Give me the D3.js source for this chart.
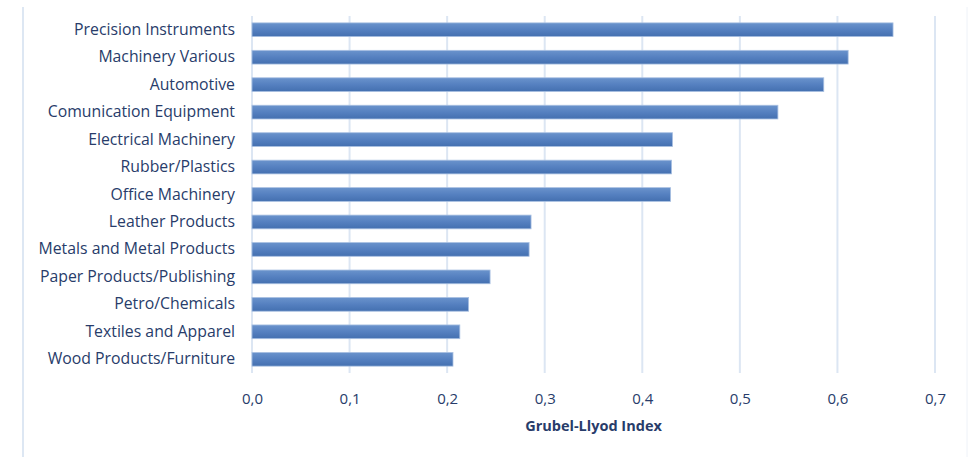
<!DOCTYPE html>
<html>
<head>
<meta charset="utf-8">
<script src="https://cdn.jsdelivr.net/npm/d3@7"></script>
<style>
  html, body { margin: 0; padding: 0; background: #fff; }
  svg { display: block; }
  text { font-family: "Open Sans", Lato, sans-serif; fill: #283c6a; }
</style>
</head>
<body>
<svg id="chart" width="968" height="457"></svg>
<script>
const categories = [
  "Precision Instruments",
  "Machinery Various",
  "Automotive",
  "Comunication Equipment",
  "Electrical Machinery",
  "Rubber/Plastics",
  "Office Machinery",
  "Leather Products",
  "Metals and Metal Products",
  "Paper Products/Publishing",
  "Petro/Chemicals",
  "Textiles and Apparel",
  "Wood Products/Furniture"
];
const values = [0.657, 0.611, 0.586, 0.539, 0.431, 0.430, 0.429, 0.286, 0.284, 0.244, 0.222, 0.213, 0.206];
const tickValues = [0, 0.1, 0.2, 0.3, 0.4, 0.5, 0.6, 0.7];
const axisTitle = "Grubel-Llyod Index";

(function () {
const svg = d3.select("#chart");
const pLeft = 252, pRight = 935, pTop = 16, pBottom = 373;
const font = "'Open Sans', Lato, sans-serif";
const textColor = "#283c6a";

const x = d3.scaleLinear().domain([0, 0.7]).range([pLeft, pRight]);
const y = d3.scaleBand().domain(categories).range([pTop, pBottom]).paddingInner(0.5).paddingOuter(0.25);

// outer frame lines
svg.append("line").attr("x1", 23).attr("x2", 23).attr("y1", 7).attr("y2", 457)
  .attr("stroke", "#dde7f3").attr("stroke-width", 2);
svg.append("line").attr("x1", 967).attr("x2", 967).attr("y1", 7).attr("y2", 457)
  .attr("stroke", "#eef2f8").attr("stroke-width", 1);

const defs = svg.append("defs");
const grad = defs.append("linearGradient").attr("id", "barGrad")
  .attr("x1", 0).attr("x2", 0).attr("y1", 0).attr("y2", 1);
grad.append("stop").attr("offset", "0%").attr("stop-color", "#6a93cc");
grad.append("stop").attr("offset", "50%").attr("stop-color", "#5580c0");
grad.append("stop").attr("offset", "100%").attr("stop-color", "#4470b0");

// gridlines
svg.append("g").selectAll("line").data(tickValues).join("line")
  .attr("x1", d => x(d)).attr("x2", d => x(d))
  .attr("y1", pTop).attr("y2", pBottom)
  .attr("stroke", "#dce6f3").attr("stroke-width", 2);

// bars
svg.append("g").selectAll("rect").data(values).join("rect")
  .attr("x", x(0))
  .attr("y", (d, i) => y(categories[i]))
  .attr("width", d => x(d) - x(0))
  .attr("height", y.bandwidth())
  .attr("fill", "url(#barGrad)")
  .attr("stroke", "#a9c0e2").attr("stroke-width", 0.8);

// category labels
const yAxis = d3.axisLeft(y).tickSize(0).tickPadding(17);
const gy = svg.append("g").attr("transform", `translate(${pLeft},0)`).call(yAxis);
gy.select(".domain").remove();
gy.selectAll("text").style("font-size", "15.8px").style("fill", textColor)
  .style("font-family", font);

// x axis tick labels
const xAxis = d3.axisBottom(x).tickValues(tickValues).tickSize(0).tickPadding(20)
  .tickFormat(d => d3.format(".1f")(d).replace(".", ","));
const gx = svg.append("g").attr("transform", `translate(0,${pBottom})`).call(xAxis);
gx.select(".domain").remove();
gx.selectAll("text").style("font-size", "15px").style("fill", textColor)
  .style("font-family", font);

// axis title
svg.append("text").attr("x", x(0.35)).attr("y", 431)
  .attr("text-anchor", "middle")
  .style("font-size", "14.5px").style("font-weight", "bold")
  .style("font-family", font).style("fill", textColor)
  .text(axisTitle);
})();
</script>
</body>
</html>
